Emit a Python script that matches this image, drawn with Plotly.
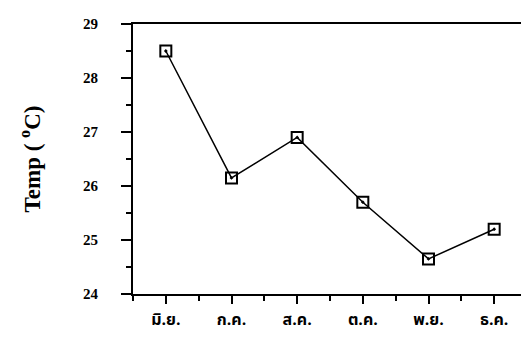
import plotly.graph_objects as go

months = ["มิ.ย.", "ก.ค.", "ส.ค.", "ต.ค.", "พ.ย.", "ธ.ค."]
temps = [28.5, 26.15, 26.9, 25.7, 24.65, 25.2]
y_ticks = [24, 25, 26, 27, 28, 29]

x_idx = list(range(len(months)))

fig = go.Figure()
fig.add_trace(go.Scatter(
    x=x_idx, y=temps, mode="lines+markers",
    line=dict(color="black", width=1.5),
    marker=dict(symbol="square-open-dot", size=11, color="black", line=dict(width=2, color="black")),
    showlegend=False,
))

fig.update_layout(
    template="simple_white",
    width=529, height=343,
    margin=dict(l=125, r=8, t=14, b=57),
    paper_bgcolor="white", plot_bgcolor="white",
    font=dict(family="Liberation Serif, serif", color="black", size=14),
)
fig.update_xaxes(
    range=[-0.5, 5.5], tickmode="array", tickvals=x_idx, ticktext=["<b>%s</b>" % m for m in months],
    ticks="outside", ticklen=8, tickwidth=1.5, tickcolor="black",
    minor=dict(ticks="outside", ticklen=5, tickwidth=1.5, tickcolor="black", dtick=0.5, tick0=0),
    showline=True, linecolor="black", linewidth=2, mirror=True,
    showgrid=False, zeroline=False,
    tickfont=dict(family="Noto Sans Thai, Loma, Garuda, sans-serif", size=16, color="black"),
    ticklabelstandoff=2,
)
fig.update_yaxes(
    range=[24, 29], tickmode="array", tickvals=y_ticks,
    ticks="outside", ticklen=10, tickwidth=1.5, tickcolor="black",
    minor=dict(ticks="outside", ticklen=5, tickwidth=1.5, tickcolor="black", dtick=0.5, tick0=24),
    showline=True, linecolor="black", linewidth=2, mirror=True,
    showgrid=False, zeroline=False,
    tickfont=dict(family="Liberation Serif, serif", size=15, color="black"),
    ticktext=["<b>%d</b>" % v for v in y_ticks],
    ticklabelstandoff=20,
    title=dict(text="<b>Temp ( <sup>o</sup>C)</b>", standoff=36,
               font=dict(family="Liberation Serif, serif", size=23, color="black")),
)

fig.write_html("out.html")
